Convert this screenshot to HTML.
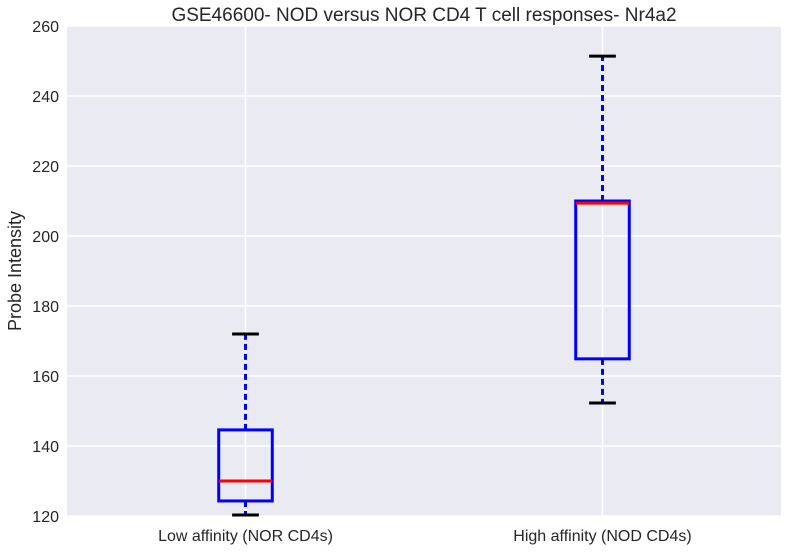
<!DOCTYPE html>
<html><head><meta charset="utf-8"><style>
body{margin:0;background:#fff;}
svg text{font-family:"Liberation Sans",Arial,sans-serif;}
</style></head><body>
<svg id="chart" width="788" height="550" xmlns="http://www.w3.org/2000/svg">
<rect x="67" y="26" width="714" height="490" fill="#EAEAF2"/>
<g id="grid"></g><g id="boxes"></g><g id="labels"></g>
<text x="424" y="21" text-anchor="middle" font-size="19" fill="#262626">GSE46600- NOD versus NOR CD4 T cell responses- Nr4a2</text>
<text transform="translate(21,271) rotate(-90)" text-anchor="middle" font-size="18" fill="#262626">Probe Intensity</text>
</svg>
<script>
const categories=["Low affinity (NOR CD4s)","High affinity (NOD CD4s)"];
const whiskerLow=[120.3,152.3];
const q1=[124.3,164.9];
const medians=[130,209.4];
const q3=[144.6,210];
const whiskerHigh=[172,251.4];
const yTicks=[120,140,160,180,200,220,240,260];
const L=67,R=781,T=26,B=516,ymin=120,ymax=260;
const ys=v=>B-(v-ymin)/(ymax-ymin)*(B-T);
const xs=i=>L+(i+1-0.5)/2*(R-L);
const ns="http://www.w3.org/2000/svg";
function mk(tag,attrs,parent){const e=document.createElementNS(ns,tag);for(const k in attrs)e.setAttribute(k,attrs[k]);document.getElementById(parent).appendChild(e);return e;}
yTicks.forEach(t=>{
 const l=mk('line',{x1:L,x2:R,y1:ys(t),y2:ys(t),stroke:'#fff','stroke-width':1.5},'grid');
 
 
 const tx=mk('text',{x:L-8,y:ys(t)+6,'text-anchor':'end','font-size':16,fill:'#262626'},'labels');
 tx.textContent=t;
 
 
});
categories.forEach((c,i)=>{
 const x=xs(i);
 const g=mk('line',{x1:x,x2:x,y1:T,y2:B,stroke:'#fff','stroke-width':1.5},'grid');
 
 
 const hw=0.075*(R-L)/2, cw=hw/2;
 const w1=mk('line',{x1:x,x2:x,y1:ys(q3[i]),y2:ys(whiskerHigh[i]),stroke:'#0000ff','stroke-width':3,'stroke-dasharray':'6,4'},'boxes');
 
 
 const w2=mk('line',{x1:x,x2:x,y1:ys(q1[i]),y2:ys(whiskerLow[i]),stroke:'#0000ff','stroke-width':3,'stroke-dasharray':'6,4'},'boxes');
 
 
 const c1=mk('line',{x1:x-cw,x2:x+cw,y1:ys(whiskerHigh[i]),y2:ys(whiskerHigh[i]),stroke:'#000','stroke-width':3},'boxes');
 
 
 const c2=mk('line',{x1:x-cw,x2:x+cw,y1:ys(whiskerLow[i]),y2:ys(whiskerLow[i]),stroke:'#000','stroke-width':3},'boxes');
 
 
 const b=mk('rect',{x:x-hw,y:ys(q3[i]),width:2*hw,height:ys(q1[i])-ys(q3[i]),fill:'none',stroke:'#0000ff','stroke-width':3},'boxes');
 
 
 const m=mk('line',{x1:x-hw,x2:x+hw,y1:ys(medians[i]),y2:ys(medians[i]),stroke:'#ff0000','stroke-width':3},'boxes');
 
 
 const tx=mk('text',{x:x,y:B+25,'text-anchor':'middle','font-size':16,fill:'#262626'},'labels');
 tx.textContent=c;
 
 
});
</script>
</body></html>
